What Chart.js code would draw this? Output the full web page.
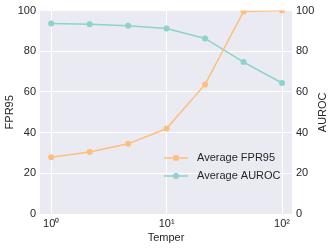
<!DOCTYPE html>
<html>
<head>
<meta charset="utf-8">
<script src="https://cdn.jsdelivr.net/npm/chart.js@4.4.1/dist/chart.umd.min.js"></script>
<style>
  html, body { margin: 0; background: #fff; }
  #wrap { width: 332px; height: 249px; }
</style>
</head>
<body>
<div id="wrap"><canvas id="c"></canvas></div>
<script>
const tempers = [1, 2.154, 4.642, 10, 21.54, 46.42, 100]
const fpr95 = [27.9, 30.5, 34.5, 42.0, 63.7, 99.6, 100.0]
const auroc = [93.6, 93.3, 92.6, 91.2, 86.3, 74.7, 64.4]
const xTicks = [1, 10, 100]
const xTickLabels = ['10⁰', '10¹', '10²']

const FONT = '"Liberation Sans", Arial, sans-serif'
const TEXT = '#262626'
const ORANGE = '#FFBE7D'
const TEAL = '#8DD3C7'

const pts = ys => tempers.map((t, i) => ({ x: t, y: ys[i] }))

const bgPlugin = {
  id: 'bg',
  beforeDraw (chart) {
    const { ctx, chartArea: a } = chart
    ctx.save()
    ctx.fillStyle = '#EAEAF2'
    ctx.fillRect(a.left, a.top, a.right - a.left, a.bottom - a.top)
    ctx.restore()
  },
}

const labelsPlugin = {
  id: 'labels',
  afterDraw (chart) {
    const { ctx, chartArea: a } = chart
    const cy = (a.top + a.bottom) / 2
    ctx.save()
    ctx.fillStyle = TEXT
    ctx.font = '11px ' + FONT
    ctx.textAlign = 'center'
    ctx.textBaseline = 'middle'
    ctx.fillText('Temper', (a.left + a.right) / 2, 238)
    for (const [txt, x] of [['FPR95', 10], ['AUROC', 323]]) {
      ctx.save()
      ctx.translate(x, cy)
      ctx.rotate(-Math.PI / 2)
      ctx.fillText(txt, 0, 0)
      ctx.restore()
    }
    // legend
    const entries = [['Average FPR95', ORANGE], ['Average AUROC', TEAL]]
    entries.forEach(([txt, col], i) => {
      const y = 158 + i * 18
      const x0 = a.right - 128
      ctx.strokeStyle = col
      ctx.lineWidth = 1.5
      ctx.beginPath()
      ctx.moveTo(x0, y)
      ctx.lineTo(x0 + 24, y)
      ctx.stroke()
      ctx.fillStyle = col
      ctx.beginPath()
      ctx.arc(x0 + 12, y, 3, 0, Math.PI * 2)
      ctx.fill()
      ctx.fillStyle = TEXT
      ctx.textAlign = 'left'
      ctx.fillText(txt, x0 + 33, y)
    })
    ctx.restore()
  },
}

const tickFont = { family: FONT, size: 11 }

new Chart(document.getElementById('c'), {
  type: 'line',
  data: {
    datasets: [
      {
        label: 'Average FPR95',
        data: pts(fpr95),
        yAxisID: 'y',
        borderColor: ORANGE,
        backgroundColor: ORANGE,
        borderWidth: 1.5,
        pointRadius: 3,
        pointBorderWidth: 0,
      },
      {
        label: 'Average AUROC',
        data: pts(auroc),
        yAxisID: 'y2',
        borderColor: TEAL,
        backgroundColor: TEAL,
        borderWidth: 1.5,
        pointRadius: 3,
        pointBorderWidth: 0,
      },
    ],
  },
  options: {
    responsive: true,
    maintainAspectRatio: false,
    animation: false,
    layout: { padding: { top: 9, left: 0, right: 0, bottom: 0 } },
    plugins: { legend: { display: false }, tooltip: { enabled: false } },
    scales: {
      x: {
        type: 'logarithmic',
        min: 0.8,
        max: 122,
        afterBuildTicks: s => { s.ticks = xTicks.map(v => ({ value: v, major: true })) },
        afterFit: s => { s.height = 35 },
        ticks: {
          autoSkip: false,
          maxRotation: 0,
          padding: 3,
          color: TEXT,
          font: tickFont,
          callback: (v, i) => xTickLabels[i],
        },
        grid: { color: '#fff', lineWidth: 1, drawTicks: false },
        border: { display: false },
      },
      y: {
        position: 'left',
        min: 0,
        max: 100,
        afterFit: s => { s.width = 40 },
        ticks: { stepSize: 20, padding: 4, color: TEXT, font: tickFont },
        grid: { color: '#fff', lineWidth: 1, drawTicks: false },
        border: { display: false },
      },
      y2: {
        position: 'right',
        min: 0,
        max: 100,
        afterFit: s => { s.width = 40 },
        ticks: { stepSize: 20, padding: 4, color: TEXT, font: tickFont },
        grid: { display: false, drawTicks: false },
        border: { display: false },
      },
    },
  },
  plugins: [bgPlugin, labelsPlugin],
})
</script>
</body>
</html>
